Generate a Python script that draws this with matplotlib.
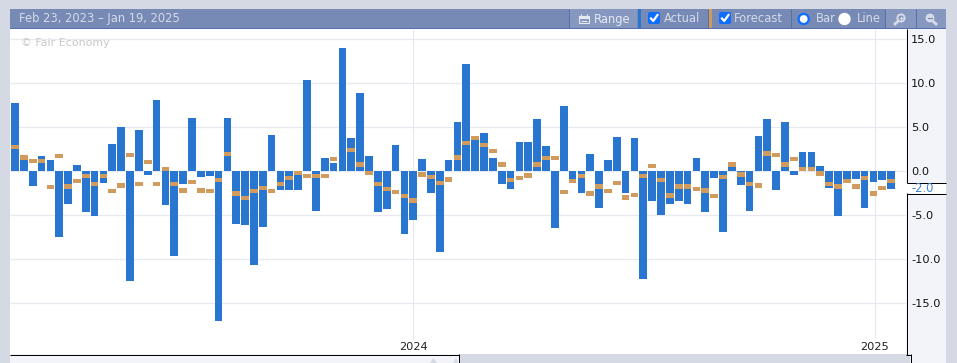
import numpy as np
from matplotlib import pyplot as plt
from matplotlib.patches import Rectangle, Circle, FancyBboxPatch, Polygon

# one value per week (nan = no forecast drawn)
actual = [7.65, 1.2, -1.8, 1.6, 1.2, -7.6, -3.8, 0.6, -4.7, -5.2,
          -1.45, 3.0, 5.0, -12.6, 4.6, -0.5, 8.0, -3.9, -9.75, -1.55,
          5.95, -0.75, -0.65, -17.1, 5.95, -6.1, -6.2, -10.75, -6.45, 4.0,
          -2.25, -2.25, -2.25, 10.25, -4.6, 1.4, 0.85, 13.9, 3.7, 8.8,
          1.6, -4.7, -4.4, 2.9, -7.2, -5.65, 1.3, -2.6, -9.3, 1.2,
          5.5, 12.1, 3.45, 4.25, 1.4, -1.55, -2.1, 3.25, 3.25, 5.85,
          2.75, -6.55, 7.3, -1.0, -2.6, 1.85, -4.3, 1.2, 3.8, -2.6,
          3.7, -12.35, -3.5, -5.0, -3.8, -3.5, -3.8, 1.4, -4.75, -0.9,
          -7.0, 0.5, -1.7, -4.6, 3.9, 5.85, -2.25, 5.5, -0.55, 2.1,
          2.1, 0.5, -1.95, -5.2, -1.0, -1.0, -4.3, -1.35, -1.1, -2.1]
forecast = [2.65, 1.5, 1.1, 1.1, -1.9, 1.65, -1.8, -1.2, -0.65, -1.55,
            -0.65, -2.35, -1.7, 1.75, -1.55, 0.95, -1.55, 0.15, -1.55, -2.25,
            -1.3, -2.25, -2.35, -1.1, 1.85, -2.6, -3.15, -2.35, -2.0, -2.35,
            -1.55, -0.85, -0.3, -0.65, -0.65, -0.65, 1.3, np.nan, 2.3, 0.7,
            -0.3, -1.55, -2.1, -2.45, -2.9, -3.4, -0.45, -0.75, -1.45, -1.0,
            1.5, 3.1, 3.7, 2.9, 2.2, 0.7, -1.1, -0.85, -0.55, 0.7,
            1.4, 1.4, -2.45, -1.2, -0.65, -2.6, -1.8, -2.35, -1.45, -3.05,
            -2.8, -0.65, 0.5, -1.1, -2.85, -1.8, -1.8, -2.1, -2.25, -2.9,
            -0.75, 0.7, -0.45, -1.55, -1.7, 1.95, 1.75, 0.7, 1.3, 0.15,
            0.15, -0.35, -1.55, -1.8, -1.2, -1.8, -0.85, -2.6, -2.0, -1.2]
y_ticks = [15, 10, 5, 0, -5, -10, -15]
year_labels = ['2024', '2025']
year_weeks = [45.0, 97.15]

W, H = 957, 363
BG = '#d5d9e3'
HEAD = '#7789b5'
HEAD_LIGHT = '#8698bf'
EDGE = '#5670a9'
PANEL = '#f3f4f9'
GRID = '#e8e8f0'
BLUE = '#2976d0'
ORANGE = '#d29b5e'
HEAD_TEXT = '#d5dbe8'

plt.rcParams['font.family'] = 'DejaVu Sans'
fig = plt.figure(figsize=(W / 100, H / 100), dpi=100, facecolor=BG)

# everything around the plot, drawn in pixels
ui = fig.add_axes([0, 0, 1, 1], zorder=0)
ui.set_xlim(0, W)
ui.set_ylim(H, 0)
ui.axis('off')


def box(x0, y0, x1, y1, color):
    ui.add_patch(Rectangle((x0, y0), x1 - x0, y1 - y0, fc=color, ec='none'))


def line(xs, ys, color='black', lw=1.0):
    ui.plot(xs, ys, color=color, lw=lw * 0.72, solid_capstyle='butt')


# header
box(10, 9, 946, 29, HEAD)
box(10, 27.7, 946, 29, EDGE)
box(569, 9, 637, 28, HEAD_LIGHT)
box(885, 9, 946, 28, HEAD_LIGHT)
box(637.5, 9, 641, 28, BLUE)
box(708, 9, 711.5, 28, ORANGE)
for sx in [568.5, 707.5, 791, 885, 915.5]:
    line([sx, sx], [9, 28], EDGE)
ui.text(19, 18.7, 'Feb 23, 2023 – Jan 19, 2025', color=HEAD_TEXT, fontsize=8.3, va='center')
ui.text(593.5, 19, 'Range', color='#e4e9f3', fontsize=8.3, va='center')
ui.text(664, 19, 'Actual', color=HEAD_TEXT, fontsize=8.3, va='center')
ui.text(734, 19, 'Forecast', color=HEAD_TEXT, fontsize=8.3, va='center')
ui.text(816, 19, 'Bar', color=HEAD_TEXT, fontsize=8.3, va='center')
ui.text(857, 19, 'Line', color=HEAD_TEXT, fontsize=8.3, va='center')

# calendar icon on the range button
ui.add_patch(Rectangle((579, 16), 10, 7, fc='none', ec='#e4e9f3', lw=0.8))
box(579, 16, 589, 18.5, '#e4e9f3')
line([581, 581], [13.5, 16], '#e4e9f3', 1.2)
line([587, 587], [13.5, 16], '#e4e9f3', 1.2)
line([581, 587], [20.5, 20.5], '#e4e9f3', 1)

# check boxes
for bx in [648, 719]:
    ui.add_patch(FancyBboxPatch((bx + 1, 13), 10, 10, boxstyle='round,pad=1,rounding_size=2',
                                fc='#0d6efd', ec='none'))
    ui.plot([bx + 3, bx + 5.2, bx + 9.5], [18.5, 21, 15], color='white', lw=1.6)

# radio buttons
ui.add_patch(Circle((803.7, 19), 6.2, fc='#0d6efd', ec='none'))
ui.add_patch(Circle((803.7, 19), 3.9, fc='white', ec='none'))
ui.add_patch(Circle((844.5, 19), 6.2, fc='white', ec='none'))

# magnifier icons
ui.add_patch(Circle((901, 18), 3.6, fc='none', ec=HEAD_TEXT, lw=1.4))
ui.plot([898.2, 895], [21, 24], color=HEAD_TEXT, lw=2)
ui.plot([899.5, 902.5], [18, 18], color=HEAD_TEXT, lw=0.8)
ui.plot([901, 901], [16.5, 19.5], color=HEAD_TEXT, lw=0.8)
ui.add_patch(Circle((930, 18), 3.6, fc=HEAD_TEXT, ec=HEAD_TEXT, lw=1.2))
ui.plot([932.8, 936], [21, 24], color=HEAD_TEXT, lw=2)
ui.plot([928, 932], [18, 18], color=HEAD, lw=0.8)

# right axis panel with the gap for the -2.0 label
box(906, 29, 946, 354, PANEL)
box(910, 354, 946, H, PANEL)
box(906, 183, 946, 193, 'white')
line([906.5, 906.5], [29, 183])
line([906.5, 946], [182.5, 182.5])
line([906.5, 946], [193.5, 193.5])
line([906.5, 906.5], [193, 354.5])
line([906, 910.5], [354.5, 354.5])
line([910.5, 910.5], [354, H])
ui.text(911, 188, '-2.0', color='#3d85d8', fontsize=8.3, va='center')

# overview strip under the plot
box(10, 354, 458.5, H, PANEL)
line([10, 459], [354.5, 354.5])
line([458.5, 458.5], [354, H])
ui.add_patch(Polygon([[430, H], [433.5, 358], [437, H]], fc=BG, ec='none'))
ui.add_patch(Polygon([[453, H], [456, 358], [458, H]], fc=BG, ec='none'))

# plot area, 8.8 px per unit and 8.85 px per week
ax = fig.add_axes([10 / W, 1 - 354 / H, 896 / W, 325 / H], zorder=1)
ax.set_facecolor('white')
for s in ax.spines.values():
    s.set_visible(False)
weeks = np.arange(len(actual))
ax.set_xlim(-0.565, 100.68)
ax.set_ylim(-20.85, 16.08)

ax.hlines(y_ticks, -0.565, 100.68, color=GRID, lw=0.9, zorder=1)
ax.vlines(year_weeks, -19.1, 16.08, color=GRID, lw=0.9, zorder=1)

ax.bar(weeks, actual, width=0.87, color=BLUE, zorder=2)
ax.bar(weeks, 0.5, bottom=np.array(forecast) - 0.25, width=0.87, color=ORANGE, zorder=3)

ax.yaxis.tick_right()
ax.set_yticks(y_ticks)
ax.set_yticklabels([f'{v:.1f}' for v in y_ticks], fontsize=8.2, color='#111111')
ax.tick_params(axis='y', length=0, pad=3.6)
ax.set_xticks(year_weeks)
ax.set_xticklabels(year_labels, fontsize=8.2, color='#222222')
ax.tick_params(axis='x', length=0, pad=-8.8)

ax.text(0.0125, 0.958, '© Fair Economy', transform=ax.transAxes, color='#c8c8c8',
        fontsize=7.9, va='center')

fig.savefig('out.png', dpi=100, facecolor=BG)
